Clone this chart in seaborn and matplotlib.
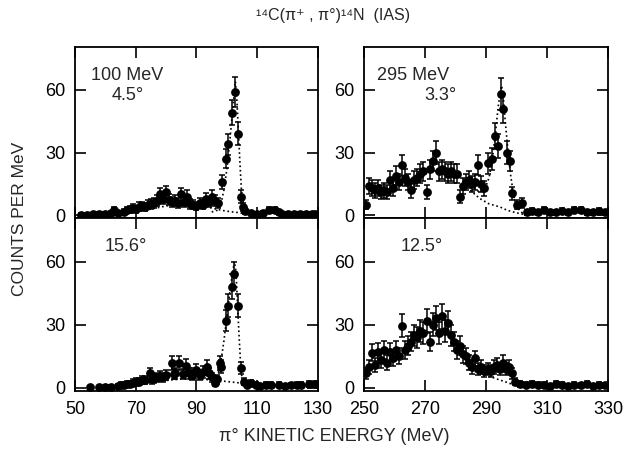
import numpy as np
import pandas as pd
import matplotlib
matplotlib.use("Agg")
import matplotlib.pyplot as plt
import seaborn as sns

# ---------------------------------------------------------------------------
# Data (energy in MeV, counts per MeV, error)
# ---------------------------------------------------------------------------
tl_e = [52, 54, 56, 58, 60, 62, 63, 64, 66, 67, 68, 69, 70, 71, 72, 73, 74, 75, 76, 77,
        78, 79, 80, 81, 82, 83, 84, 85, 86, 87, 88, 89, 90, 91, 92, 93, 94, 95, 96, 97,
        98.5, 99.8, 100.5, 101.8, 102.8, 103.8, 104.5, 105.2, 106, 108, 110, 112, 114,
        116, 117, 118, 120, 122, 124, 126, 128, 129]
tl_c = [0.3, 0.4, 0.5, 0.6, 0.8, 1.0, 2.5, 1.2, 1.8, 2.5, 3.0, 3.5, 3.0, 4.2, 4.5, 4.0,
        5.0, 5.5, 6.0, 7.0, 10.0, 8.0, 11.0, 7.5, 6.5, 7.0, 6.0, 10.0, 6.5, 9.0, 5.5, 5.0,
        4.5, 6.0, 5.0, 8.0, 6.5, 9.0, 7.0, 6.0, 16.0, 27.0, 34.0, 49.0, 59.0, 39.0, 9.0,
        4.0, 2.0, 1.2, 0.8, 1.0, 2.5, 2.5, 1.5, 0.8, 0.6, 0.5, 0.8, 0.6, 0.8, 0.7]
tl_err = [0.6, 0.6, 0.7, 0.8, 0.9, 1.0, 1.6, 1.1, 1.3, 1.6, 1.7, 1.9, 1.7, 2.0, 2.1, 2.0,
          2.2, 2.3, 2.4, 2.6, 3.0, 2.8, 3.2, 2.7, 2.5, 2.6, 2.4, 3.0, 2.5, 2.9, 2.3, 2.2,
          2.1, 2.4, 2.2, 2.8, 2.5, 2.9, 2.6, 2.4, 3.5, 4.5, 5.0, 6.0, 7.0, 5.5, 3.0,
          2.0, 1.4, 1.1, 0.9, 1.0, 1.6, 1.6, 1.2, 0.9, 0.8, 0.7, 0.9, 0.8, 0.9, 0.8]
tl_fit_e = [95, 97, 98, 99, 100, 101, 102, 102.8, 103.3, 103.8, 104.3, 104.8, 105.5, 106.5, 108]
tl_fit_c = [1.6, 2.5, 5, 12, 22, 36, 52, 64, 55, 40, 25, 12, 5, 1.5, 0.5]
tl_bg_e = [60, 65, 70, 75, 80, 85, 90, 95, 98, 100, 102, 104, 106, 110]
tl_bg_c = [0, 0.5, 1.5, 3, 4.5, 5.5, 5, 3.5, 2.5, 2, 1.6, 1.3, 0.8, 0.2]

bl_e = [55, 58, 60, 62, 64, 65, 66, 67, 68, 69, 70, 71, 72, 73, 74.6, 75.5, 76, 77, 78, 79,
        80, 81.8, 82.5, 83, 84.4, 85.5, 86.7, 87.5, 88.5, 89.2, 90, 91, 92, 93.3, 94, 95,
        96, 96.8, 97.6, 98.2, 99.8, 100.5, 101.8, 102.2, 103.8, 104.8, 105.5, 106.5, 108,
        109.5, 111, 113, 114.6, 117, 119, 121, 123, 124.4, 127, 129]
bl_c = [0.2, 0.3, 0.4, 0.6, 1.0, 1.5, 1.2, 1.8, 2.0, 2.5, 2.8, 3.0, 3.5, 3.5, 7.0, 4.0,
        4.5, 5.0, 5.5, 5.0, 6.0, 12.0, 6.5, 7.0, 12.0, 6.5, 10.5, 7.0, 6.0, 7.0, 8.5, 6.0,
        7.5, 10.0, 7.0, 5.0, 2.5, 4.0, 12.0, 10.0, 32.0, 39.0, 48.0, 54.0, 39.0, 9.5, 3.0,
        1.5, 2.4, 1.5, 1.0, 1.5, 1.5, 1.5, 1.0, 1.2, 1.5, 1.5, 2.0, 1.8]
bl_err = [0.5, 0.6, 0.7, 0.8, 1.0, 1.2, 1.1, 1.3, 1.4, 1.6, 1.7, 1.7, 1.9, 1.9, 2.6, 2.0,
          2.1, 2.2, 2.3, 2.2, 2.4, 3.3, 2.5, 2.6, 3.3, 2.5, 3.0, 2.6, 2.4, 2.6, 2.8, 2.4,
          2.7, 3.0, 2.6, 2.2, 1.6, 2.0, 3.3, 3.0, 5.0, 5.5, 6.0, 6.0, 5.5, 3.0, 1.7,
          1.2, 1.5, 1.2, 1.0, 1.2, 1.2, 1.2, 1.0, 1.1, 1.2, 1.2, 1.4, 1.3]
bl_fit_e = [96, 97, 98, 99, 100, 101, 102, 102.5, 103, 103.5, 104, 104.5, 105, 106]
bl_fit_c = [3.5, 6, 12, 22, 34, 46, 56, 60, 55, 40, 25, 12, 4, 1.5]
bl_bg_e = [60, 65, 70, 75, 80, 85, 90, 95, 100, 105, 108, 112]
bl_bg_c = [0, 0.5, 1.5, 2.5, 3.5, 4.2, 4.2, 3.8, 3, 2.2, 1.2, 0.3]

tr_e = [250.5, 251.5, 252.5, 253.5, 254.5, 255.5, 256.5, 257.5, 258.5, 259.5,
        260.5, 261.5, 262.5, 263.5, 264.5, 265.5, 266.5, 267.5, 268.5, 269.5,
        270.5, 271.5, 272.5, 273.5, 274.5, 275.5, 276.5, 277.5, 278.5, 279.5,
        280.5, 281.5, 282.5, 283.5, 284.5, 285.5, 286.5, 287.5, 288.5, 289.5,
        290.6, 292, 293, 293.8, 295, 295.7, 297, 297.9, 298.6, 300,
        301.8, 303.5, 305, 307, 309, 311, 313, 315, 317, 319, 321, 323, 325, 327, 329]
tr_c = [5, 14, 13, 12, 13, 11, 12, 11, 17, 13, 19, 16, 24, 18, 16, 12, 17, 18, 20, 21,
        11, 22, 26, 30, 21, 22, 21, 20, 21, 20, 20, 9, 14, 16, 17, 15, 16, 24, 15, 13,
        25, 27, 38, 33, 58, 51, 30, 26, 10.5, 5, 6, 1.5, 2, 1.5, 2.5, 1.5, 1.5, 2, 1.5,
        2.5, 2.5, 1.5, 1.5, 2, 1.5]
tr_err = [2.2, 4, 3.8, 3.6, 3.8, 3.4, 3.6, 3.4, 4.2, 3.8, 4.4, 4.0, 5.0, 4.2, 4.0, 3.5,
          4.2, 4.2, 4.5, 4.6, 3.4, 4.7, 5.0, 5.5, 4.6, 4.7, 4.6, 4.5, 4.6, 4.5, 4.5, 3.0,
          3.8, 4.0, 4.1, 3.9, 4.0, 4.9, 3.9, 3.6, 5.0, 5.2, 6.2, 5.7, 7.5, 7.0, 5.5, 5.0,
          3.2, 2.2, 2.4, 1.2, 1.4, 1.2, 1.6, 1.2, 1.2, 1.4, 1.2, 1.6, 1.6, 1.2, 1.2, 1.4, 1.2]
tr_fit_e = [286, 288, 290, 291, 292, 293, 294, 295, 295.5, 296, 297, 298, 299, 300, 302, 305]
tr_fit_c = [13, 11, 14, 18, 26, 38, 52, 62, 60, 50, 34, 20, 10, 4, 1, 0.3]
tr_bg_e = [284.8, 288, 291, 294.6, 297, 300, 303]
tr_bg_c = [12, 8, 5.5, 4, 2.4, 1.2, 0.3]

br_e = [250.5, 251.5, 252.5, 253.5, 254.5, 255.5, 256.5, 257.5, 258.5, 259.5,
        260.5, 261.5, 262.5, 263.5, 264.5, 265.5, 266.5, 267.5, 268.5, 269.5,
        270.5, 271.5, 272.5, 273.5, 274.5, 275.5, 276.5, 277.5, 278.5, 279.5,
        280.5, 281.5, 282.5, 283.5, 284.5, 285.5, 286.5, 287.5, 288.5, 289.5,
        290.5, 291.5, 292.5, 293.5, 294.5, 295.5, 296.5, 297.5, 298.5, 299.5,
        301, 303, 305, 307, 309, 311, 313, 315, 317, 319, 321, 323, 325, 327, 329]
br_c = [7, 10, 16.7, 11, 17, 13, 18, 12, 17, 14, 18, 15, 29.5, 18, 20, 22, 25, 24, 27, 26,
        32, 22, 30, 33, 26, 34, 27, 31, 25, 22, 18, 20, 16, 15, 12, 10, 14, 9, 10, 8,
        9, 8, 10, 11, 9, 12, 9, 10, 7, 3, 2, 1.5, 2, 1.5, 1.5, 1, 2, 1.5, 1, 1.5,
        1.2, 2, 1, 1.5, 1.2]
br_err = [2.6, 3.2, 4.1, 3.3, 4.1, 3.6, 4.2, 3.5, 4.1, 3.7, 4.2, 3.9, 5.4, 4.2, 4.5, 4.7,
          5.0, 4.9, 5.2, 5.1, 5.7, 4.7, 5.5, 5.7, 5.1, 5.8, 5.2, 5.6, 5.0, 4.7, 4.2, 4.5,
          4.0, 3.9, 3.5, 3.2, 3.7, 3.0, 3.2, 2.8, 3.0, 2.8, 3.2, 3.3, 3.0, 3.5, 3.0, 3.2,
          2.6, 1.7, 1.4, 1.2, 1.4, 1.2, 1.2, 1.0, 1.4, 1.2, 1.0, 1.2, 1.1, 1.4, 1.0, 1.2, 1.1]
br_bg_e = [284, 288, 292, 296, 300, 304]
br_bg_c = [9, 7, 5, 3, 1, 0.3]

left_xticks = [50, 70, 90, 110, 130]
right_xticks = [250, 270, 290, 310, 330]
yticks = [0, 30, 60]

# ---------------------------------------------------------------------------
# Style
# ---------------------------------------------------------------------------
sns.set_theme(style="ticks")
plt.rcParams["font.family"] = ["Liberation Sans", "DejaVu Sans"]
plt.rcParams["axes.linewidth"] = 1.3


def draw_panel(ax, e, c, err, fit_e, fit_c, bg_e, bg_c, xlim, xticks, show_xlabels):
    ax.errorbar(e, c, yerr=err, fmt="none", ecolor="black", elinewidth=1.1,
                capsize=2.5, capthick=1.1, zorder=2)
    sns.scatterplot(x=e, y=c, ax=ax, color="black", s=40, edgecolor="black",
                    linewidth=0, zorder=3)
    if fit_e:
        sns.lineplot(x=fit_e, y=fit_c, ax=ax, color="black", linestyle=":",
                     linewidth=1.2, sort=False, estimator=None, zorder=1)
    sns.lineplot(x=bg_e, y=bg_c, ax=ax, color="black", linestyle=":",
                 linewidth=1.2, sort=False, estimator=None, zorder=1)
    ax.set_xlim(xlim)
    ax.set_ylim(-1.5, 80.5)
    ax.set_xticks(xticks)
    ax.set_yticks(yticks)
    ax.tick_params(direction="in", top=True, right=True, length=8, width=1.2,
                   labelsize=13, colors="black", pad=7)
    if not show_xlabels:
        ax.set_xticklabels([])
    ax.set_xlabel("")
    ax.set_ylabel("")
    for sp in ax.spines.values():
        sp.set_color("black")


fig = plt.figure(figsize=(6.25, 4.55), dpi=100)
lw, rw = 243 / 625, 244 / 625
ax_tl = fig.add_axes([75 / 625, 0.5198, lw, 0.8967 - 0.5198])
ax_bl = fig.add_axes([75 / 625, 0.1407, lw, 0.5198 - 0.1407])
ax_tr = fig.add_axes([364 / 625, 0.5198, rw, 0.8967 - 0.5198])
ax_br = fig.add_axes([364 / 625, 0.1407, rw, 0.5198 - 0.1407])

draw_panel(ax_tl, tl_e, tl_c, tl_err, tl_fit_e, tl_fit_c, tl_bg_e, tl_bg_c,
           (50, 130), left_xticks, False)
draw_panel(ax_bl, bl_e, bl_c, bl_err, bl_fit_e, bl_fit_c, bl_bg_e, bl_bg_c,
           (50, 130), left_xticks, True)
draw_panel(ax_tr, tr_e, tr_c, tr_err, tr_fit_e, tr_fit_c, tr_bg_e, tr_bg_c,
           (250, 330), right_xticks, False)
draw_panel(ax_br, br_e, br_c, br_err, [], [], br_bg_e, br_bg_c,
           (250, 330), right_xticks, True)

ax_tl.text(67, 67, "100 MeV", ha="center", va="center", fontsize=13)
ax_tl.text(67.5, 57.5, "4.5°", ha="center", va="center", fontsize=13)
ax_tr.text(266, 67, "295 MeV", ha="center", va="center", fontsize=13)
ax_tr.text(275, 57.5, "3.3°", ha="center", va="center", fontsize=13)
ax_bl.text(66.7, 67, "15.6°", ha="center", va="center", fontsize=13)
ax_br.text(269, 67, "12.5°", ha="center", va="center", fontsize=13)

fig.text(0.533, 0.967, "¹⁴C(π⁺ , π°)¹⁴N  (IAS)", ha="center", va="center", fontsize=11.5)
fig.text(0.535, 0.04, "π° KINETIC ENERGY (MeV)", ha="center", va="center", fontsize=13)
fig.text(0.032, 0.52, "COUNTS PER MeV", ha="center", va="center", rotation=90, fontsize=12.5)

fig.savefig("out.png", dpi=100)
